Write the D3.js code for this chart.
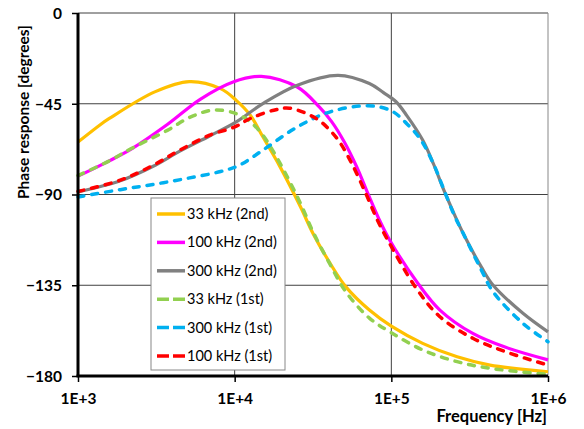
<!DOCTYPE html>
<html>
<head>
<meta charset="utf-8">
<script src="https://cdn.jsdelivr.net/npm/d3@7"></script>
<style>
  body { margin: 0; background: #fff; }
  text { font-family: Lato, 'Open Sans', sans-serif; }
</style>
</head>
<body>
<script>
const width = 584
const height = 429
const margin = { top: 13, right: 36, bottom: 53, left: 78 }

// log10 of frequency in Hz, and phase in degrees
const yellow2ndLog = [3.0, 3.14, 3.2, 3.49, 3.71, 3.91, 4.01, 4.1, 4.18, 4.29, 4.42, 4.5, 4.61, 4.71, 4.86, 5.0, 5.2, 5.42, 5.63, 6.0]
const yellow2ndDeg = [-64, -55.5, -52.3, -39.1, -34, -37.5, -43.3, -50.7, -61.4, -76.3, -96.1, -109.3, -124.2, -135.8, -147.3, -155.3, -163.8, -170.5, -174.6, -177.9]

const magenta2ndLog = [3.0, 3.2, 3.35, 3.57, 3.78, 3.99, 4.17, 4.4, 4.54, 4.62, 4.7, 4.78, 4.85, 4.92, 4.99, 5.17, 5.31, 5.52, 5.73, 6.0]
const magenta2ndDeg = [-80.9, -73.3, -67, -55.3, -42.8, -34.2, -31.4, -36.7, -46.6, -54, -64, -76.5, -89.5, -102, -112.7, -134.1, -147.3, -158.9, -165.8, -172]

const gray2ndLog = [3.0, 3.27, 3.48, 3.65, 3.84, 4.01, 4.18, 4.4, 4.66, 4.86, 4.95, 5.03, 5.1, 5.2, 5.27, 5.336, 5.4, 5.46, 5.575, 5.65, 5.84, 6.0]
const gray2ndDeg = [-88.7, -83.2, -76, -68.5, -61, -54, -44.9, -35.8, -30.9, -35, -39.5, -44, -51, -63, -75, -88, -99.5, -109.5, -126, -135, -148.9, -158.1]

const green1stLog = [3.0, 3.2, 3.35, 3.57, 3.72, 3.87, 4.01, 4.1, 4.18, 4.29, 4.42, 4.5, 4.61, 4.71, 4.86, 5.0, 5.2, 5.42, 5.63, 6.0]
const green1stDeg = [-80.6, -73.3, -66.8, -58.2, -51.5, -48.1, -49.9, -54, -60.6, -74.6, -94.4, -108.5, -124.8, -138.3, -151.3, -158.5, -167.1, -172.9, -176.2, -179.2]

const blue1stLog = [3.0, 3.27, 3.48, 3.69, 3.91, 4.03, 4.18, 4.4, 4.61, 4.85, 5.0, 5.1, 5.19, 5.27, 5.33, 5.4, 5.46, 5.575, 5.65, 5.84, 6.0]
const blue1stDeg = [-91.2, -87.6, -85, -82.1, -78.6, -75.5, -68, -56.5, -49, -46, -48.5, -55, -63.1, -75, -86.5, -100, -109.5, -127.5, -138.3, -153.9, -163]

const red1stLog = [3.0, 3.27, 3.48, 3.65, 3.84, 4.0, 4.1, 4.25, 4.35, 4.52, 4.6, 4.67, 4.75, 4.84, 4.91, 4.98, 5.16, 5.31, 5.52, 5.73, 6.0]
const red1stDeg = [-88.5, -82.9, -75.5, -68, -60.6, -56.5, -52.3, -48.2, -47.2, -52.3, -57.5, -64, -75, -90, -102.5, -113, -136.6, -150.6, -161.3, -168, -174.6]

const seriesNames = ['33 kHz (2nd)', '100 kHz (2nd)', '300 kHz (2nd)', '33 kHz (1st)', '300 kHz (1st)', '100 kHz (1st)']
const seriesColors = ['#FFC000', '#FF00FF', '#808080', '#92D050', '#00B0F0', '#FF0000']
const seriesDashed = [false, false, false, true, true, true]
const seriesLogs = [yellow2ndLog, magenta2ndLog, gray2ndLog, green1stLog, blue1stLog, red1stLog]
const seriesDegs = [yellow2ndDeg, magenta2ndDeg, gray2ndDeg, green1stDeg, blue1stDeg, red1stDeg]

const yTicks = [0, -45, -90, -135, -180]
const xTicks = [1e3, 1e4, 1e5, 1e6]
const xTickLabels = ['1E+3', '1E+4', '1E+5', '1E+6']

const series = seriesNames.map(function (name, i) {
  return {
    name: name,
    color: seriesColors[i],
    dashed: seriesDashed[i],
    values: seriesLogs[i].map(function (e, j) { return { f: Math.pow(10, e), deg: seriesDegs[i][j] } })
  }
})

const x = d3.scaleLog()
  .domain([1e3, 1e6])
  .range([margin.left, width - margin.right])

const y = d3.scaleLinear()
  .domain([-180, 0])
  .range([height - margin.bottom, margin.top])

const svg = d3.select('body').append('svg')
  .attr('width', width)
  .attr('height', height)

// grid
svg.append('g')
  .selectAll('line')
  .data(yTicks.slice(0, 4))
  .enter().append('line')
  .attr('x1', x(1e3)).attr('x2', x(1e6))
  .attr('y1', function (d) { return y(d) }).attr('y2', function (d) { return y(d) })
  .attr('stroke', '#404040')
  .attr('stroke-width', 1)

svg.append('g')
  .selectAll('line')
  .data(xTicks.slice(1))
  .enter().append('line')
  .attr('x1', function (d) { return x(d) }).attr('x2', function (d) { return x(d) })
  .attr('y1', y(0)).attr('y2', y(-180))
  .attr('stroke', function (d) { return d === 1e6 ? '#888' : '#404040' })
  .attr('stroke-width', 1)

// curves
const line = d3.line()
  .x(function (d) { return x(d.f) })
  .y(function (d) { return y(d.deg) })
  .curve(d3.curveCatmullRom.alpha(0.5))

svg.append('g')
  .selectAll('path')
  .data(series)
  .enter().append('path')
  .attr('d', function (d) { return line(d.values) })
  .attr('fill', 'none')
  .attr('stroke', function (d) { return d.color })
  .attr('stroke-width', function (d) { return d.dashed ? 3.5 : 3.2 })
  .attr('stroke-dasharray', function (d) { return d.dashed ? '6,8' : null })
  .attr('stroke-linecap', function (d) { return d.dashed ? 'round' : 'butt' })

// axes
const yAxis = d3.axisLeft(y)
  .tickValues(yTicks)
  .tickSize(6)
  .tickFormat(d3.format('d'))

const xAxis = d3.axisBottom(x)
  .tickValues(xTicks)
  .tickSize(6)
  .tickFormat(function (d, i) { return xTickLabels[i] })

const gy = svg.append('g')
  .attr('transform', 'translate(' + margin.left + ',0)')
  .call(yAxis)
gy.select('.domain').attr('stroke', '#000').attr('stroke-width', 3)
  .attr('d', 'M0,' + y(0) + 'V' + y(-180))
gy.selectAll('.tick line').attr('stroke', '#000').attr('stroke-width', 1.5)
gy.selectAll('.tick text')
  .attr('x', -16)
  .attr('dy', '0.35em')
  .style('font-size', '15.5px')
  .style('font-weight', 'bold')
  .attr('fill', '#000')

const gx = svg.append('g')
  .attr('transform', 'translate(0,' + y(-180) + ')')
  .call(xAxis)
gx.select('.domain').attr('stroke', '#000').attr('stroke-width', 3)
  .attr('d', 'M' + (x(1e3) - 1.5) + ',0H' + x(1e6))
gx.selectAll('.tick line').attr('stroke', '#000').attr('stroke-width', 1.5)
gx.selectAll('.tick text')
  .attr('y', 17)
  .style('font-size', '15.5px')
  .style('font-weight', 'bold')
  .attr('fill', '#000')

// axis titles
svg.append('text')
  .attr('transform', 'translate(29,112) rotate(-90)')
  .attr('text-anchor', 'middle')
  .style('font-size', '15.5px')
  .style('font-weight', 'bold')
  .text('Phase response [degrees]')

svg.append('text')
  .attr('x', x(1e6) - 1)
  .attr('y', 422)
  .attr('text-anchor', 'end')
  .style('font-size', '16.5px')
  .style('font-weight', 'bold')
  .text('Frequency [Hz]')

// legend
const legend = svg.append('g').attr('transform', 'translate(151,198)')
legend.append('rect')
  .attr('width', 134).attr('height', 172)
  .attr('fill', '#fff')
  .attr('stroke', '#888')
  .attr('stroke-width', 1)

const item = legend.selectAll('g.item')
  .data(series)
  .enter().append('g')
  .attr('class', 'item')
  .attr('transform', function (d, i) { return 'translate(0,' + (16 + i * 28.4) + ')' })

item.append('line')
  .attr('x1', 6).attr('x2', 34)
  .attr('stroke', function (d) { return d.color })
  .attr('stroke-width', 3.5)
  .attr('stroke-dasharray', function (d) { return d.dashed ? '12,4' : null })

item.append('text')
  .attr('x', 36)
  .attr('dy', '0.35em')
  .style('font-size', '14.5px')
  .attr('fill', '#000')
  .text(function (d) { return d.name })
</script>
</body>
</html>
